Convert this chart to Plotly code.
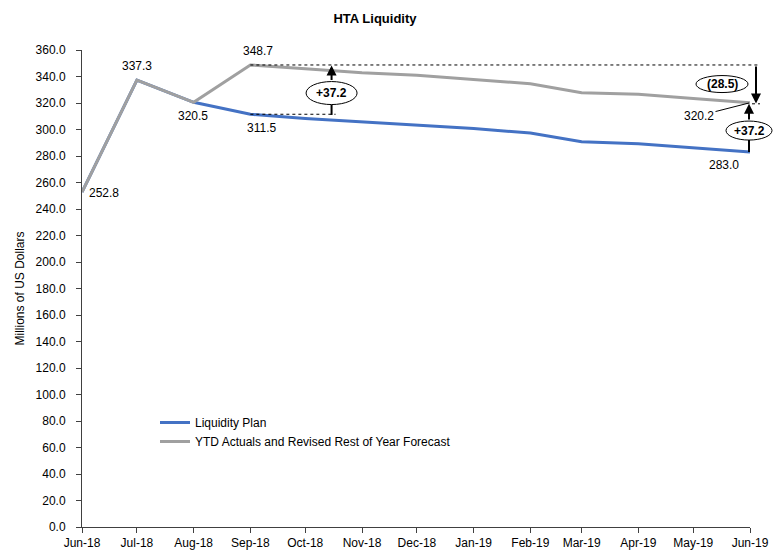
import plotly.graph_objects as go
from datetime import date

months = ["2018-06-01", "2018-07-01", "2018-08-01", "2018-09-01", "2018-10-01", "2018-11-01",
          "2018-12-01", "2019-01-01", "2019-02-01", "2019-03-01", "2019-04-01", "2019-05-01",
          "2019-06-01"]
tick_labels = ["Jun-18", "Jul-18", "Aug-18", "Sep-18", "Oct-18", "Nov-18", "Dec-18",
               "Jan-19", "Feb-19", "Mar-19", "Apr-19", "May-19", "Jun-19"]
plan = [252.8, 337.3, 320.5, 311.5, 308.3, 305.7, 303.5, 300.8, 297.3, 290.8, 289.3, 286.1, 283.0]
forecast = [252.8, 337.3, 320.5, 348.7, 345.8, 342.8, 341.0, 338.0, 334.5, 327.8, 326.6, 323.4, 320.2]
y_ticks = [i * 20 for i in range(19)]

font = "Liberation Sans"
BLUE = "#4472C4"
GRAY = "#A0A0A0"

PLOT_W = 668.0
PLOT_H = 477.0
PX_PER_UNIT = PLOT_H / 360.0

d0 = date.fromisoformat(months[0])
d1 = date.fromisoformat(months[-1])


def frac(s):
    return (date.fromisoformat(s) - d0).days / (d1 - d0).days


def px_to_val(dpx):
    return dpx / PX_PER_UNIT


fig = go.Figure()
fig.add_trace(go.Scatter(x=months, y=plan, mode="lines", name="Liquidity Plan",
                         line=dict(color=BLUE, width=3)))
fig.add_trace(go.Scatter(x=months, y=forecast, mode="lines",
                         name="YTD Actuals and Revised Rest of Year Forecast",
                         line=dict(color=GRAY, width=3)))

shapes = []
annotations = []
dot = dict(color="black", width=1, dash="dot")

sep = months[3]
left_x = frac("2018-10-15") + 0.001
down_x = 1 + 6 / PLOT_W
up_x = 1 - 1 / PLOT_W

# dotted reference lines
shapes.append(dict(type="line", xref="paper", yref="y", x0=frac(sep), x1=1 + 9 / PLOT_W,
                   y0=forecast[3], y1=forecast[3], line=dot))
shapes.append(dict(type="line", xref="paper", yref="y", x0=frac(sep), x1=left_x + 4 / PLOT_W,
                   y0=plan[3], y1=plan[3], line=dot))
shapes.append(dict(type="line", xref="paper", yref="y", x0=1 + 2 / PLOT_W, x1=1 + 10 / PLOT_W,
                   y0=forecast[-1] - 0.8, y1=forecast[-1] - 0.8, line=dot))


def bubble(xc, yc, w, h, label):
    shapes.append(dict(type="circle", xref="paper", yref="y", xsizemode="pixel",
                       ysizemode="pixel", xanchor=xc, yanchor=yc, x0=-w / 2, x1=w / 2,
                       y0=-h / 2, y1=h / 2, fillcolor="white",
                       line=dict(color="black", width=1)))
    annotations.append(dict(xref="paper", yref="y", x=xc, y=yc, text="<b>" + label + "</b>",
                            xanchor="center", yanchor="middle", showarrow=False,
                            font=dict(size=12, family=font, color="black")))


# left +37.2
lc, lh = 327.5, 23
lo, hi = lc - px_to_val(lh / 2), lc + px_to_val(lh / 2)
shapes.append(dict(type="line", xref="paper", yref="y", x0=left_x, x1=left_x,
                   y0=plan[3] - 0.5, y1=lo, line=dict(color="black", width=2)))
annotations.append(dict(xref="paper", yref="y", x=left_x, y=forecast[3] - 0.4, ax=0, ay=hi,
                        ayref="y", axref="pixel", text="", showarrow=True, arrowhead=2,
                        arrowsize=1, arrowwidth=2, arrowcolor="black"))
bubble(left_x, lc, 51, lh, "+37.2")

# right (28.5) down arrow
annotations.append(dict(xref="paper", yref="y", x=down_x, y=forecast[-1] - 0.5, ax=0,
                        ay=forecast[3], ayref="y", axref="pixel", text="", showarrow=True,
                        arrowhead=2, arrowsize=1, arrowwidth=2, arrowcolor="black"))
bubble(1 - 28 / PLOT_W, 334.3, 52, 17, "(28.5)")

# right +37.2 up arrow
rc, rh = 299.2, 19
rlo, rhi = rc - px_to_val(rh / 2), rc + px_to_val(rh / 2)
shapes.append(dict(type="line", xref="paper", yref="y", x0=up_x, x1=up_x,
                   y0=plan[-1], y1=rlo, line=dict(color="black", width=2)))
annotations.append(dict(xref="paper", yref="y", x=up_x, y=forecast[-1] - 0.8, ax=0, ay=rhi,
                        ayref="y", axref="pixel", text="", showarrow=True, arrowhead=2,
                        arrowsize=1, arrowwidth=2, arrowcolor="black"))
bubble(up_x, rc, 46, rh, "+37.2")

# data labels
lab_font = dict(size=12, family=font, color="black")
annotations += [
    dict(x=months[0], y=plan[0], text="252.8", showarrow=False, xanchor="left", xshift=5,
         yshift=-1, font=lab_font),
    dict(x=months[1], y=plan[1], text="337.3", showarrow=False, yshift=14, font=lab_font),
    dict(x=months[2], y=plan[2], text="320.5", showarrow=False, yshift=-14, xshift=-1,
         font=lab_font),
    dict(x=months[3], y=plan[3], text="311.5", showarrow=False, yshift=-14, xshift=11,
         font=lab_font),
    dict(x=months[3], y=forecast[3], text="348.7", showarrow=False, yshift=14, xshift=8,
         font=lab_font),
    dict(x=months[-1], y=plan[-1], text="283.0", showarrow=False, yshift=-13, xshift=-26,
         font=lab_font),
    dict(x=months[-1], y=forecast[-1], text="320.2", showarrow=True, ax=-51, ay=13,
         arrowhead=0, arrowwidth=1, arrowcolor="black", standoff=1, font=lab_font),
]

fig.update_layout(
    width=783, height=555,
    margin=dict(l=74, r=41, t=42, b=36, autoexpand=False),
    paper_bgcolor="white", plot_bgcolor="white",
    font=dict(family=font, size=12, color="black"),
    title=dict(text="<b>HTA Liquidity</b>", x=(375 - 8) / 783, xref="container",
               xanchor="center", y=1 - 10 / 555, yref="container", yanchor="middle",
               font=dict(size=13, family=font)),
    showlegend=True,
    legend=dict(x=(155 - 82) / PLOT_W, y=(527 - 408) / PLOT_H, xanchor="left", yanchor="top",
                bgcolor="rgba(0,0,0,0)", font=dict(size=12, family=font), tracegroupgap=0),
    shapes=shapes,
    annotations=annotations,
)

fig.update_xaxes(type="date", range=[months[0], months[-1]], tickvals=months,
                 ticktext=tick_labels, showgrid=False, showline=True, linecolor="#404040",
                 linewidth=1, ticks="outside", ticklen=5, tickcolor="#404040",
                 tickfont=dict(size=12, family=font), zeroline=False, automargin=False)
fig.update_yaxes(range=[0, 360], tickvals=y_ticks, ticktext=[f"{v:.1f}" for v in y_ticks],
                 showgrid=False, showline=True, linecolor="#404040", linewidth=1,
                 ticks="outside", ticklen=5, tickcolor="#404040", ticklabelstandoff=8,
                 tickfont=dict(size=12, family=font), zeroline=False, automargin=False,
                 title=dict(text="Millions of US Dollars", font=dict(size=12, family=font),
                            standoff=8))

fig.write_html("out.html")
